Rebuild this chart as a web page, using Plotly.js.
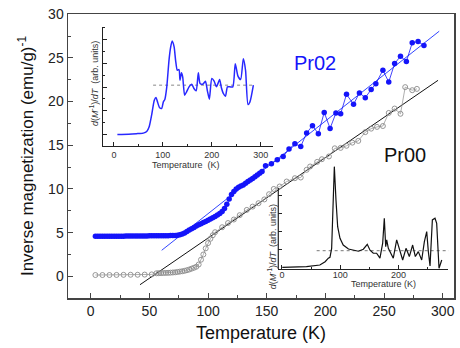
<!DOCTYPE html>
<html>
<head>
<meta charset="utf-8">
<script src="https://cdn.plot.ly/plotly-3.0.1.min.js"></script>
<style>html,body{margin:0;padding:0;background:#fff}#chart{width:460px;height:348px}</style>
</head>
<body>
<div id="chart"></div>
<script>
// ---- Main panel: inverse magnetization vs temperature ----
const tempPr02 = [4,6,8,10,12,14,16,18,20,22,24,26,28,30,32,34,36,38,40,42,44,46,48,50,52,54,56,58,60,62,64,66,68,70,72,74,76,
  78,80,82,84,86,88,90,92,94,96,98,100,102,104,106,108,110,112,114,116,118,120,122,124,126,128,130,132,134,136,138,140,142,144,146,
  149,154,159,164,169,174,179,184,189,194,199,204,209,213,218,224,229,234,239,243,249,254,259,264,269,274,279,284];
const invMPr02 = [4.58,4.58,4.58,4.58,4.59,4.59,4.59,4.59,4.6,4.6,4.6,4.6,4.6,4.61,4.61,4.61,4.61,4.61,4.62,4.62,4.62,4.62,4.62,4.63,4.63,4.63,4.63,4.64,4.64,4.64,4.65,4.65,4.66,4.67,4.68,4.71,4.76,
  4.85,4.97,5.12,5.3,5.45,5.6,5.75,5.9,6.02,6.15,6.28,6.42,6.55,6.7,6.85,7.02,7.2,7.42,7.75,8.25,8.85,9.35,9.7,9.98,10.2,10.35,10.45,10.65,10.85,11.02,11.2,11.4,11.6,11.8,12.0,
  12.65,12.88,13.34,13.7,14.56,15.17,14.86,16.4,17.24,16.32,18.76,16.93,18.69,18.61,20.83,19.68,20.99,20.45,21.37,22.05,23.58,22.24,24.35,25.18,24.58,26.72,26.87,26.41];

const tempPr00 = [4,10,16,22,28,34,40,46,52,56,58,60,62,64,66,68,70,72,74,76,78,80,82,84,86,88,90,92,94,96,98,100,102,104,106,
  112,117,122,127,133,138,143,148,152,156,161,167,174,179,184,187,193,197,203,208,213,218,223,228,234,239,244,249,254,259,264,268,274,278];
const invMPr00 = [0.15,0.15,0.15,0.16,0.17,0.18,0.18,0.2,0.22,0.35,0.36,0.37,0.38,0.39,0.4,0.42,0.44,0.46,0.5,0.54,0.58,0.63,0.7,0.78,0.88,0.98,1.1,1.35,1.9,2.5,3.2,3.8,4.3,4.7,5.05,
  5.62,6.1,6.5,7.0,7.6,7.98,8.37,8.8,9.4,10.0,10.28,10.85,11.23,11.31,12.19,12.57,13.1,13.4,13.72,14.65,14.7,14.94,15.3,15.5,16.5,16.9,17.1,17.2,18.7,19.2,18.6,21.65,21.3,21.45];

// Curie-Weiss linear fits
const fitTempPr02 = [60.5, 297];
const fitInvMPr02 = [2.98, 28.05];
const fitTempPr00 = [42, 296];
const fitInvMPr00 = [-0.96, 22.43];

// ---- Inset (upper left): d(M^-1)/dT for Pr02 ----
const insetTempPr02 = [7,30,46,60,67,72,77,82.5,86,89,93,97.5,101,104,108,112.5,116,119,123,126,129.5,133,135,138,140.5,144.5,148.5,153.5,159,163.5,168,172.5,176,181.5,187,191,195,200,204.5,209.5,212,216,219.5,223.5,228,232,237,243,248,253.5,259,264.5,269,274,278,285];
const insetDerivPr02 = [0,0.02,0.06,0.11,0.25,0.65,1.63,2.89,3.12,2.75,2.28,2.19,2.75,2.95,4.02,6.26,7.39,7.89,7.39,6.26,5.42,5.48,4.58,5.2,4.86,3.31,3.6,4.02,4.24,3.88,3.68,5.2,4.3,4.24,4.49,3.68,2.98,4.72,4.52,4.02,4.24,4.63,3.96,3.46,3.23,4.02,4.02,4.02,5.98,4.92,4.63,6.4,5.42,2.53,2.75,4.16];
const insetRefTempPr02 = [80, 288];
const insetRefPr02 = [4.16, 4.16];

// ---- Inset (lower right): d(M^-1)/dT for Pr00 ----
const insetTempPr00 = [0.5,42,65,74,79.5,82.3,85.2,87,89.8,92.6,95.5,99.5,105,114,122,131,139.5,146.3,151,156.6,162.3,168,172.7,175.5,177.9,179.6,182.4,186.4,190.9,196.7,202.4,207,212.7,218.4,224.1,228.7,233.8,239.6,244.2,248.2,251,253.9,257.9,262.4,265.3,269.3,274];
const insetDerivPr00 = [0.05,0.09,0.18,0.36,0.55,0.6,1.09,3.19,5.55,3.73,2.27,1.64,1.27,1.05,0.99,0.93,1.04,1.31,0.99,0.82,0.82,0.55,1.37,2.73,1.18,1.55,1.09,0.82,0.55,1.55,0.99,0.45,1.09,0.64,1.27,0.64,0.91,0.45,1.45,2.0,0.91,0.13,2.64,2.73,2.45,0.0,0.45];
const insetRefTempPr00 = [59.5, 291];
const insetRefPr00 = [0.96, 0.96];

const FONT = 'Arial, "Liberation Sans", sans-serif';
const BLUE = 'rgb(20,20,250)';

const traces = [
  {x: fitTempPr02, y: fitInvMPr02, mode: 'lines', line: {color: 'rgb(50,70,255)', width: 1}, xaxis: 'x', yaxis: 'y'},
  {x: fitTempPr00, y: fitInvMPr00, mode: 'lines', line: {color: '#111', width: 1}, xaxis: 'x', yaxis: 'y'},
  {x: tempPr00, y: invMPr00, mode: 'lines+markers', line: {color: '#999', width: 0.8},
   marker: {symbol: 'circle-open', size: 5, color: '#8a8a8a', line: {width: 0.9, color: '#8a8a8a'}}, xaxis: 'x', yaxis: 'y'},
  {x: tempPr02, y: invMPr02, mode: 'lines+markers', line: {color: BLUE, width: 0.8},
   marker: {symbol: 'circle', size: 5.5, color: BLUE}, xaxis: 'x', yaxis: 'y'},
  {x: insetRefTempPr02, y: insetRefPr02, mode: 'lines', line: {color: '#888', width: 1, dash: 'dot'}, xaxis: 'x2', yaxis: 'y2'},
  {x: insetTempPr02, y: insetDerivPr02, mode: 'lines', line: {color: 'rgb(40,40,255)', width: 1.5, shape: 'spline', smoothing: 0.6}, xaxis: 'x2', yaxis: 'y2'},
  {x: insetRefTempPr00, y: insetRefPr00, mode: 'lines', line: {color: '#777', width: 1, dash: 'dot'}, xaxis: 'x3', yaxis: 'y3'},
  {x: insetTempPr00, y: insetDerivPr00, mode: 'lines', line: {color: '#111', width: 1.2}, xaxis: 'x3', yaxis: 'y3'}
];

const insetAxis = {showline: true, linecolor: '#222', linewidth: 1.2, ticks: 'inside', ticklen: 4, tickwidth: 1, tickcolor: '#222',
  showgrid: false, zeroline: false, tickfont: {size: 9, color: '#333'}};

function label(text, x, y, size, color, angle) {
  return {text: text, xref: 'paper', yref: 'paper', x: x, y: y, xanchor: 'center', yanchor: 'middle',
    textangle: angle || 0, showarrow: false, font: {size: size, color: color}};
}

const layout = {
  width: 460, height: 348,
  margin: {l: 68, r: 6, t: 14, b: 50},
  paper_bgcolor: '#fff', plot_bgcolor: 'rgba(0,0,0,0)',
  font: {family: FONT, color: '#222'},
  showlegend: false,
  xaxis: {domain: [0, 1], range: [-19.35, 309.6], showline: true, mirror: true, linecolor: '#444', linewidth: 1.5,
    ticks: 'inside', ticklen: 5, tickwidth: 1, tickcolor: '#444', tick0: 0, dtick: 50,
    minor: {ticks: 'inside', ticklen: 3, dtick: 25, tickcolor: '#444'},
    showgrid: false, zeroline: false, tickfont: {size: 14, color: '#222'},
    title: {text: 'Temperature (K)', font: {size: 18, color: '#111'}, standoff: 8}},
  yaxis: {domain: [0, 1], range: [-2.48, 30.02], showline: true, mirror: true, linecolor: '#444', linewidth: 1.5,
    ticks: 'inside', ticklen: 5, tickwidth: 1, tickcolor: '#444', tick0: 0, dtick: 5,
    minor: {ticks: 'inside', ticklen: 3, dtick: 2.5, tickcolor: '#444'},
    showgrid: false, zeroline: false, tickfont: {size: 14, color: '#222'},
    title: {text: 'Inverse magnetization (emu/g)<sup>-1</sup>', font: {size: 17, color: '#111'}, standoff: 10}},
  xaxis2: Object.assign({}, insetAxis, {domain: [0.0899, 0.5303], anchor: 'y2', range: [-23, 324.5], tick0: 0, dtick: 100,
    minor: {ticks: 'inside', ticklen: 2.5, dtick: 50, tickcolor: '#222'}}),
  yaxis2: Object.assign({}, insetAxis, {domain: [0.5352, 0.9553], anchor: 'x2', range: [-0.98, 9.1], tick0: 0, dtick: 2,
    showticklabels: false, minor: {ticks: 'inside', ticklen: 2.5, dtick: 1, tickcolor: '#222'}}),
  xaxis3: Object.assign({}, insetAxis, {domain: [0.5448, 0.9852], anchor: 'y3', range: [-6.3, 285.2], tick0: 0, dtick: 100,
    ticklabelstandoff: -3, minor: {ticks: 'inside', ticklen: 2.5, dtick: 50, tickcolor: '#222'}}),
  yaxis3: Object.assign({}, insetAxis, {domain: [0.1021, 0.4754], anchor: 'x3', range: [-0.04, 5.75], showline: false,
    tickvals: [1, 2, 3, 4], showticklabels: false}),
  shapes: [
    {type: 'line', xref: 'x3 domain', yref: 'y3', x0: 0, x1: 0, y0: -0.04, y1: 4.38, line: {color: '#222', width: 1.2}}
  ],
  annotations: [
    label('Pr02', 0.64, 0.8275, 20, BLUE),
    label('Pr00', 0.873, 0.5018, 20, '#111'),
    label('Temperature&nbsp; (K)', 0.305, 0.468, 9, '#333'),
    label('<i>d</i>(<i>M</i><sup>-1</sup>)/<i>dT</i>&nbsp; (arb. units)', 0.069, 0.756, 9, '#333', -90),
    label('Temperature (K)', 0.8168, 0.049, 9, '#333'),
    label('<i>d</i>(<i>M</i><sup>-1</sup>)/<i>dT</i>&nbsp; (arb. units)', 0.5277, 0.1813, 9, '#333', -90)
  ]
};

Plotly.newPlot('chart', traces, layout, {staticPlot: true, displayModeBar: false});
</script>
</body>
</html>
